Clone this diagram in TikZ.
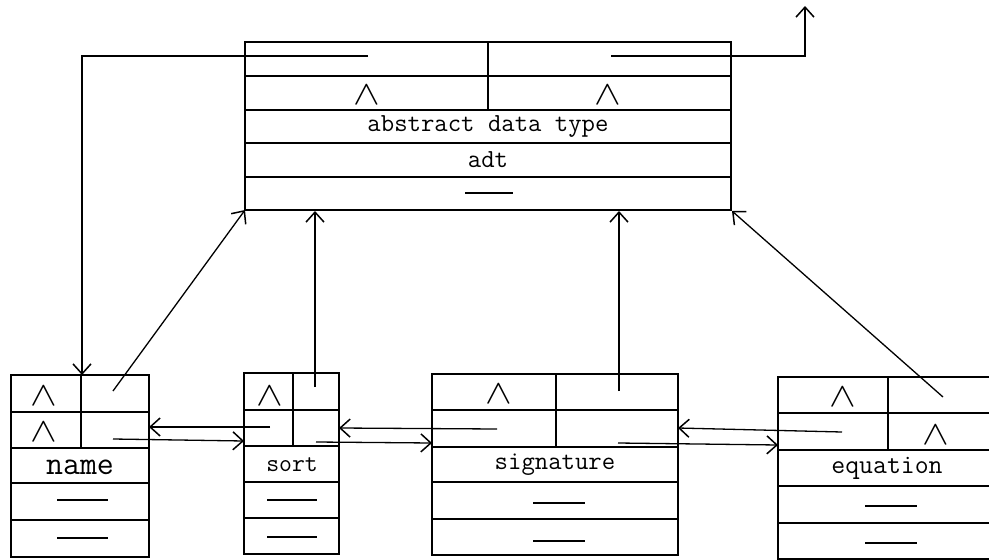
\documentclass[tikz,border=0pt]{standalone}
\usepackage{fontspec}
\usetikzlibrary{arrows.meta}
\newcommand\wdg{\scalebox{4.0}[3.4]{$\wedge$}}
\tikzset{
  frame/.style={draw=black, line width=1.1pt},
  conn/.style={draw=black, line width=1.3pt, -{Straight Barb[length=10pt,width=18pt,line width=1.5pt]}},
  dashmark/.style={draw=black, line width=2pt},
  lbl/.style={inner sep=0pt, font=\ttfamily\fontsize{26}{26}\selectfont},
  wedge/.style={inner sep=0pt, line width=0.4pt}
}
\begin{document}
\begin{tikzpicture}[x=1pt,y=-1pt]
\useasboundingbox (0,0) rectangle (989,560);
\clip (0,0) rectangle (989,560);
\fill[white] (0,0) rectangle (989,560);

% ---------- abstract data type box ----------
\draw[frame] (245,42) rectangle (731,210);
\foreach \yy in {76,110,143,177} \draw[frame] (245,\yy) -- (731,\yy);
\draw[frame] (488,42) -- (488,110);
\node[wedge] (adtw1) at (367,95) {\wdg};
\node[wedge] (adtw2) at (608,95) {\wdg};
\node[lbl] (adtlabel) at (488,127) {abstract data type};
\node[lbl] (adtshort) at (488,160) {adt};
\draw[dashmark] (465,193) -- (513,193);
\coordinate (adtL) at (368,56);
\coordinate (adtR) at (611,56);
\coordinate (adtBL) at (245,210);
\coordinate (adtBS) at (315,211);
\coordinate (adtBG) at (619,211);
\coordinate (adtBR) at (732,211);
\coordinate (upend) at (805,6);

% ---------- name box ----------
\draw[frame] (11,375) rectangle (149,557);
\foreach \yy in {412,448,483,520} \draw[frame] (11,\yy) -- (149,\yy);
\draw[frame] (81,375) -- (81,448);
\node[wedge] (namew1) at (44,396) {\wdg};
\node[wedge] (namew2) at (44,432) {\wdg};
\node[lbl, font=\ttfamily\fontsize{33}{33}\selectfont] (namelabel) at (80,467) {name};
\draw[dashmark] (57,500) -- (108,500);
\draw[dashmark] (57,538) -- (108,538);
\coordinate (nameTop) at (82,375);
\coordinate (nameR1) at (113,391);
\coordinate (nameR2) at (113,439);
\coordinate (nameRE) at (149,427);

% ---------- sort box ----------
\draw[frame] (244,373) rectangle (339,554);
\foreach \yy in {410,446,482,518} \draw[frame] (244,\yy) -- (339,\yy);
\draw[frame] (293,373) -- (293,446);
\node[wedge] (sortw1) at (270,396) {\wdg};
\node[lbl, font=\ttfamily\fontsize{25}{25}\selectfont] (sortlabel) at (292,465) {sort};
\draw[dashmark] (267,500) -- (317,500);
\draw[dashmark] (267,537) -- (317,537);
\coordinate (sortR1) at (315,387);
\coordinate (sortL2) at (270,427);
\coordinate (sortR2) at (316,442);
\coordinate (sortLE) at (244,441);
\coordinate (sortRE) at (339,428);

% ---------- signature box ----------
\draw[frame] (432,374) rectangle (678,555);
\foreach \yy in {410,447,482,519} \draw[frame] (432,\yy) -- (678,\yy);
\draw[frame] (556,374) -- (556,447);
\node[wedge] (sigw1) at (499,394) {\wdg};
\node[lbl] (siglabel) at (555,465) {signature};
\draw[dashmark] (533,503) -- (585,503);
\draw[dashmark] (533,541) -- (585,541);
\coordinate (sigR1) at (619,391);
\coordinate (sigL2) at (497,429);
\coordinate (sigR2) at (618,443);
\coordinate (sigLE) at (432,443);
\coordinate (sigRE) at (678,428);

% ---------- equation box ----------
\draw[frame] (778,377) rectangle (996,559);
\foreach \yy in {413,450,486,523} \draw[frame] (778,\yy) -- (996,\yy);
\draw[frame] (888,377) -- (888,450);
\node[wedge] (eqw1) at (843,397) {\wdg};
\node[wedge] (eqw2) at (936,435) {\wdg};
\node[lbl, font=\ttfamily\fontsize{27}{27}\selectfont] (eqlabel) at (887,468) {equation};
\draw[dashmark] (865,506) -- (917,506);
\draw[dashmark] (865,543) -- (917,543);
\coordinate (eqR1) at (943,397);
\coordinate (eqL2) at (842,432);
\coordinate (eqLE) at (778,445);

% ---------- connectors ----------
\draw[conn] (adtL) -- (82,56) -- (nameTop);
\draw[conn] (adtR) -- (805,56) -- (upend);
\draw[conn] (nameR1) -- (adtBL);
\draw[conn] (sortR1) -- (adtBS);
\draw[conn] (sigR1) -- (adtBG);
\draw[conn] (eqR1) -- (adtBR);
\draw[conn] (nameR2) -- (sortLE);
\draw[conn] (sortL2) -- (nameRE);
\draw[conn] (sortR2) -- (sigLE);
\draw[conn] (sigL2) -- (sortRE);
\draw[conn] (sigR2) -- (eqLE);
\draw[conn] (eqL2) -- (sigRE);
\end{tikzpicture}
\end{document}
